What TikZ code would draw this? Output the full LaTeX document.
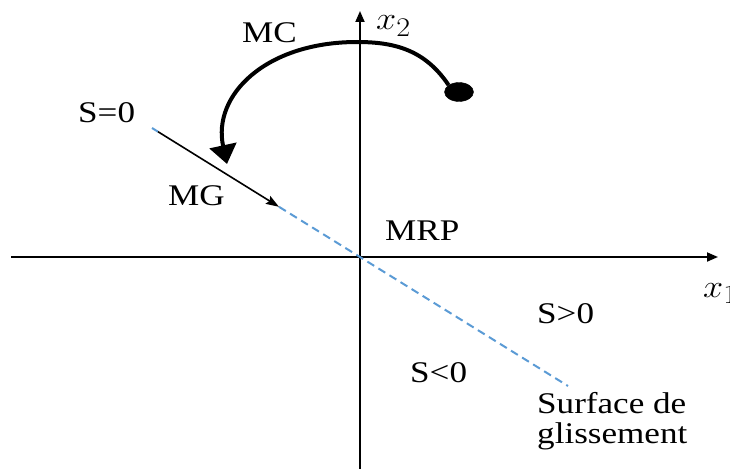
\documentclass[tikz,border=0pt]{standalone}
\usepackage{fontspec}
\setmainfont{Liberation Serif}[FakeStretch=1.17]
\usetikzlibrary{arrows.meta,shapes.geometric}
\definecolor{surfblue}{RGB}{91,155,213}
\begin{document}
\begin{tikzpicture}[x=1pt,y=-1pt,
  lbl/.style={inner sep=0pt,anchor=base west,font=\fontsize{30}{30}\selectfont},
  axis/.style={line width=1.8pt,-{Triangle[length=11pt,width=9pt]}},
  surf/.style={surfblue,line width=2pt,dash pattern=on 8pt off 5pt},
  mgarrow/.style={line width=1.6pt,-{Stealth[length=13pt,width=9pt,inset=2pt]}},
  mcarrow/.style={line width=4pt,-{Triangle[length=19pt,width=27pt]}}]
\useasboundingbox (0,0) rectangle (730,468);
% axes
\coordinate (xl) at (11,257);
\coordinate (xr) at (718,257);
\coordinate (yb) at (360,470);
\coordinate (yt) at (360,11);
\draw[axis] (xl) -- (xr);
\draw[axis] (yb) -- (yt);
% sliding surface
\coordinate (s0) at (152,128);
\coordinate (mga) at (158,131.7);
\coordinate (mgb) at (279,206.8);
\coordinate (send) at (568,386);
\draw[surf] (s0) -- (mga);
\draw[surf] (mgb) -- (send);
\draw[mgarrow] (mga) -- (mgb);
% MC curved arrow
\node[draw,fill,ellipse,minimum width=29pt,minimum height=19pt,inner sep=0pt] (dot) at (459,92) {};
\coordinate (top) at (357,42);
\coordinate (tip) at (227,164);
\draw[mcarrow] (dot.north west) .. controls (425,50) and (395,42) .. (top)
  .. controls (266,42) and (212,95) .. (tip);
% labels
\node[lbl] (mc) at (242,43) {MC};
\node[lbl] (x2) at (376,30) {\scalebox{1.45}[1.3]{$x_{2}$}};
\node[lbl] (x1) at (703,297) {\scalebox{1.45}[1.3]{$x_{1}$}};
\node[lbl] (seq) at (78,122) {S=0};
\node[lbl] (mg) at (168,205) {MG};
\node[lbl] (mrp) at (385,240) {MRP};
\node[lbl] (sgt) at (537,323) {S>0};
\node[lbl] (slt) at (410,382) {S<0};
\node[lbl] (sd1) at (537,413) {Surface de};
\node[lbl] (sd2) at (537,443) {glissement};
\end{tikzpicture}
\end{document}
